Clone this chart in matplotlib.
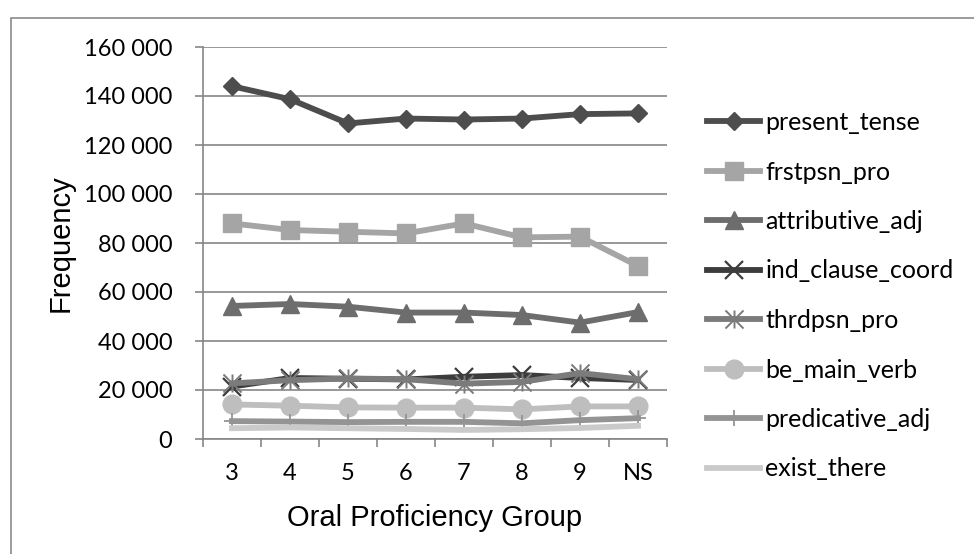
# Feature frequencies by oral proficiency group

import matplotlib.pyplot as plt
from matplotlib.patches import Rectangle
from matplotlib.path import Path
from matplotlib.ticker import FuncFormatter, MultipleLocator

groups = ["3", "4", "5", "6", "7", "8", "9", "NS"]

present_tense = [144000, 138700, 128800, 130800, 130400, 130800, 132600, 132900]
frstpsn_pro = [88000, 85300, 84600, 83900, 88000, 82300, 82600, 70600]
attributive_adj = [54300, 55100, 54000, 51600, 51600, 50600, 47500, 51800]
ind_clause_coord = [21400, 24900, 24600, 24300, 25400, 26100, 24900, 24100]
thrdpsn_pro = [22700, 24000, 24700, 24400, 22600, 23300, 26900, 24400]
be_main_verb = [14100, 13600, 12900, 12800, 12800, 12100, 13300, 13300]
predicative_adj = [7300, 7100, 6900, 7000, 7000, 6400, 7700, 8500]
exist_there = [4400, 4700, 4400, 4100, 3700, 4000, 4500, 5400]

# excel style star: an x with a vertical stroke
star = Path([(-1, -1), (1, 1), (-1, 1), (1, -1), (0, -1), (0, 1)],
            [Path.MOVETO, Path.LINETO, Path.MOVETO, Path.LINETO, Path.MOVETO, Path.LINETO])

series = [
    ("present_tense", present_tense, "#4d4d4d", "D", 9, 1.0),
    ("frstpsn_pro", frstpsn_pro, "#a5a5a5", "s", 13, 1.0),
    ("attributive_adj", attributive_adj, "#6d6d6d", "^", 13.5, 1.0),
    ("ind_clause_coord", ind_clause_coord, "#3c3c3c", "x", 13, 1.6),
    ("thrdpsn_pro", thrdpsn_pro, "#7b7b7b", star, 13, 1.4),
    ("be_main_verb", be_main_verb, "#bebebe", "o", 13.5, 1.0),
    ("predicative_adj", predicative_adj, "#949494", "+", 11, 1.3),
    ("exist_there", exist_there, "#cacaca", None, 0, 1.0),
]

fig = plt.figure(figsize=(9.74, 5.54), dpi=100)
fig.patches.append(Rectangle((11 / 974, -0.05), 1.1, 1 - 18 / 554 + 0.05,
                             transform=fig.transFigure, fill=False,
                             edgecolor="#8a8a8a", linewidth=1.2))

ax = fig.add_axes([203 / 974, 1 - 439 / 554, 464 / 974, 392 / 554])
x = range(len(groups))
for name, vals, col, mk, ms, mew in series:
    ax.plot(x, vals, color=col, linewidth=4.2, marker=mk, markersize=ms,
            markeredgewidth=mew, markeredgecolor=col, label=name)

ax.set_xlim(-0.5, len(groups) - 0.5)
ax.set_ylim(0, 160000)
ax.yaxis.set_major_locator(MultipleLocator(20000))
ax.yaxis.set_major_formatter(FuncFormatter(lambda v, p: f"{int(v):,}".replace(",", " ")))
ax.set_xticks(list(x))
ax.set_xticklabels(groups)
ax.set_xticks([i - 0.5 for i in range(len(groups) + 1)], minor=True)
ax.tick_params(axis="x", which="major", length=0, pad=17, labelsize=17)
ax.tick_params(axis="x", which="minor", length=6, color="#868686", width=1.2)
ax.tick_params(axis="y", length=6, color="#868686", width=1.2, labelsize=17, pad=16)
for lab in ax.get_xticklabels() + ax.get_yticklabels():
    lab.set_family("Lato")

ax.grid(axis="y", color="#868686", linewidth=1.2)
ax.set_axisbelow(True)
for s in ["top", "right"]:
    ax.spines[s].set_visible(False)
for s in ["left", "bottom"]:
    ax.spines[s].set_color("#868686")
    ax.spines[s].set_linewidth(1.2)

ax.set_ylabel("Frequency", fontsize=21, family="Liberation Sans", labelpad=6.5)
ax.set_xlabel("Oral Proficiency Group", fontsize=21, family="Liberation Sans", labelpad=15)

leg = fig.legend(loc="upper left", bbox_to_anchor=(707 / 974, 1 - 111 / 554),
                 frameon=False, prop={"family": "Lato", "size": 18},
                 handlelength=2.12, handletextpad=0.22, labelspacing=1.06,
                 borderpad=0, borderaxespad=0)

fig.savefig("out.png", dpi=100)
